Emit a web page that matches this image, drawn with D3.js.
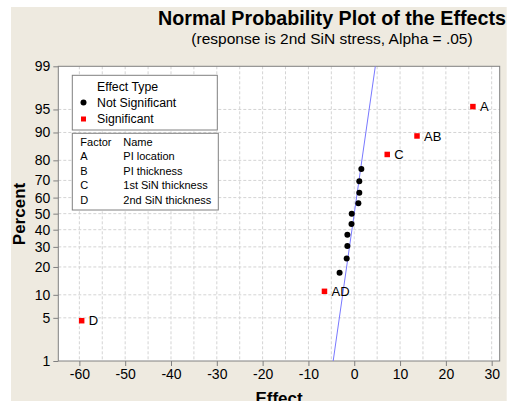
<!DOCTYPE html>
<html>
<head>
<meta charset="utf-8">
<script src="https://cdn.jsdelivr.net/npm/d3@7"></script>
<style>
html,body{margin:0;padding:0;background:#fff;}
svg{display:block;font-family:"Liberation Sans",Arial,sans-serif;}
</style>
</head>
<body>
<svg id="chart" width="516" height="401"></svg>
<script>
// ---- data ----
const sigNames = ["D", "AD", "C", "AB", "A"];
const sigEffects = [-59.5, -6.5, 7.2, 13.7, 25.9];
const sigPercent = [4.55, 11.0, 82.5, 89.0, 95.45];
const nsEffects = [-3.2, -1.65, -1.5, -1.5, -0.6, -0.55, 0.9, 1.1, 1.1, 1.55];
const nsPercent = [17.5, 24.0, 30.5, 37.0, 43.5, 50.0, 56.5, 63.0, 69.5, 76.0];
const lineEffects = [-4.6, 4.6];
const linePercent = [1, 99];
const yTicks = [1, 5, 10, 20, 30, 40, 50, 60, 70, 80, 90, 95, 99];
const xTicks = [-60, -50, -40, -30, -20, -10, 0, 10, 20, 30];
const xGrid = d3.range(-60, 31, 5);
const factorCodes = ["A", "B", "C", "D"];
const factorNames = ["PI location", "PI thickness", "1st SiN thickness", "2nd SiN thickness"];

// inverse normal CDF (Acklam)
function probit(p) {
  const a = [-3.969683028665376e+01, 2.209460984245205e+02, -2.759285104469687e+02, 1.383577518672690e+02, -3.066479806614716e+01, 2.506628277459239e+00];
  const b = [-5.447609879822406e+01, 1.615858368580409e+02, -1.556989798598866e+02, 6.680131188771972e+01, -1.328068155288572e+01];
  const c = [-7.784894002430293e-03, -3.223964580411365e-01, -2.400758277161838e+00, -2.549732539343734e+00, 4.374664141464968e+00, 2.938163982698783e+00];
  const d = [7.784695709041462e-03, 3.224671290700398e-01, 2.445134137142996e+00, 3.754408661907416e+00];
  const pl = 0.02425, ph = 1 - pl;
  let q, r;
  if (p < pl) { q = Math.sqrt(-2 * Math.log(p)); return (((((c[0]*q+c[1])*q+c[2])*q+c[3])*q+c[4])*q+c[5]) / ((((d[0]*q+d[1])*q+d[2])*q+d[3])*q+1); }
  if (p <= ph) { q = p - 0.5; r = q*q; return (((((a[0]*r+a[1])*r+a[2])*r+a[3])*r+a[4])*r+a[5])*q / (((((b[0]*r+b[1])*r+b[2])*r+b[3])*r+b[4])*r+1); }
  q = Math.sqrt(-2 * Math.log(1 - p)); return -(((((c[0]*q+c[1])*q+c[2])*q+c[3])*q+c[4])*q+c[5]) / ((((d[0]*q+d[1])*q+d[2])*q+d[3])*q+1);
}

const svg = d3.select("#chart");
const L = 58.3, R = 499.7, T = 66.3, B = 361;

svg.append("rect").attr("x", 11).attr("y", 7).attr("width", 495.7).attr("height", 394).attr("fill", "#eeeae0");
svg.append("rect").attr("x", L).attr("y", T).attr("width", R - L).attr("height", B - T).attr("fill", "#fff");

const x = d3.scaleLinear().domain([-64.6, 31.75]).range([L, R]);
const yz = d3.scaleLinear().domain([probit(0.01), probit(0.99)]).range([B, T]);
const y = p => yz(probit(p / 100));

// grid
const gridColor = "#d4d4d4";
svg.append("g").selectAll("line").data(xGrid).join("line")
  .attr("x1", d => x(d)).attr("x2", d => x(d)).attr("y1", T).attr("y2", B)
  .attr("stroke", gridColor).attr("stroke-dasharray", "3,2").attr("stroke-width", 1);
svg.append("g").selectAll("line").data(yTicks.slice(1, -1)).join("line")
  .attr("x1", L).attr("x2", R).attr("y1", d => y(d)).attr("y2", d => y(d))
  .attr("stroke", gridColor).attr("stroke-dasharray", "3,2").attr("stroke-width", 1);

// axes
const xAxis = d3.axisBottom(x).tickValues(xTicks).tickSize(5).tickPadding(3).tickFormat(d3.format("d"));
const gx = svg.append("g").attr("transform", `translate(0,${B})`).call(xAxis);
const yAxis = d3.axisLeft(yz).tickValues(yTicks.map(p => probit(p / 100))).tickSize(5).tickPadding(3)
  .tickFormat((d, i) => yTicks[i]);
const gy = svg.append("g").attr("transform", `translate(${L},0)`).call(yAxis);
[gx, gy].forEach(g => {
  g.select(".domain").remove();
  g.selectAll(".tick line").attr("stroke", "#808080");
  g.selectAll(".tick text").attr("fill", "#000").style("font-size", "14px").style("font-family", "'Liberation Sans',Arial,sans-serif");
});
gx.selectAll(".tick text").text(d => d < 0 ? "-" + Math.abs(d) : d);

// frame
svg.append("rect").attr("x", L).attr("y", T).attr("width", R - L).attr("height", B - T)
  .attr("fill", "none").attr("stroke", "#808080").attr("stroke-width", 1);

// reference line
svg.append("defs").append("clipPath").attr("id", "clip").append("rect")
  .attr("x", L).attr("y", T).attr("width", R - L).attr("height", B - T);
svg.append("line").attr("clip-path", "url(#clip)")
  .attr("x1", x(lineEffects[0])).attr("y1", y(linePercent[0]))
  .attr("x2", x(lineEffects[1])).attr("y2", y(linePercent[1]))
  .attr("stroke", "#7878ff").attr("stroke-width", 1);

// points
svg.append("g").selectAll("circle").data(nsEffects).join("circle")
  .attr("cx", d => x(d)).attr("cy", (d, i) => y(nsPercent[i])).attr("r", 3).attr("fill", "#000");
const sg = svg.append("g").selectAll("g").data(sigEffects).join("g")
  .attr("transform", (d, i) => `translate(${x(d)},${y(sigPercent[i])})`);
sg.append("rect").attr("x", -2.75).attr("y", -2.75).attr("width", 5.5).attr("height", 5.5).attr("fill", "#ff0000");
sg.append("text").attr("x", 7).attr("dy", "0.35em").style("font-size", "13px").text((d, i) => sigNames[i]);

// titles
svg.append("text").attr("x", 332).attr("y", 25).attr("text-anchor", "middle")
  .style("font-size", "19.7px").style("font-weight", "bold").text("Normal Probability Plot of the Effects");
svg.append("text").attr("x", 332).attr("y", 44).attr("text-anchor", "middle")
  .style("font-size", "15.5px").text("(response is 2nd SiN stress, Alpha = .05)");
svg.append("text").attr("transform", "translate(25,214) rotate(-90)").attr("text-anchor", "middle")
  .style("font-size", "17px").style("font-weight", "bold").text("Percent");
svg.append("text").attr("x", 279).attr("y", 403.5).attr("text-anchor", "middle")
  .style("font-size", "17px").style("font-weight", "bold").text("Effect");

// legend 1
const lg = svg.append("g").style("font-size", "12.3px");
lg.append("rect").attr("x", 72.3).attr("y", 75.3).attr("width", 145).attr("height", 54.7)
  .attr("fill", "#fff").attr("stroke", "#808080");
lg.append("text").attr("x", 97).attr("y", 90.5).text("Effect Type");
lg.append("circle").attr("cx", 83.5).attr("cy", 102.5).attr("r", 3).attr("fill", "#000");
lg.append("text").attr("x", 97).attr("y", 106.5).text("Not Significant");
lg.append("rect").attr("x", 81).attr("y", 116.5).attr("width", 5).attr("height", 5).attr("fill", "#ff0000");
lg.append("text").attr("x", 97).attr("y", 123).text("Significant");

// legend 2
const lg2 = svg.append("g").style("font-size", "11px");
lg2.append("rect").attr("x", 72.3).attr("y", 133.3).attr("width", 146).attr("height", 76.7)
  .attr("fill", "#fff").attr("stroke", "#808080");
lg2.append("text").attr("x", 80.3).attr("y", 145.7).text("Factor");
lg2.append("text").attr("x", 123.3).attr("y", 145.7).text("Name");
lg2.selectAll("text.code").data(factorCodes).join("text").attr("class", "code")
  .attr("x", 80.3).attr("y", (d, i) => 160.2 + i * 14.5).text(d => d);
lg2.selectAll("text.nm").data(factorNames).join("text").attr("class", "nm")
  .attr("x", 123.3).attr("y", (d, i) => 160.2 + i * 14.5).text(d => d);
</script>
</body>
</html>
